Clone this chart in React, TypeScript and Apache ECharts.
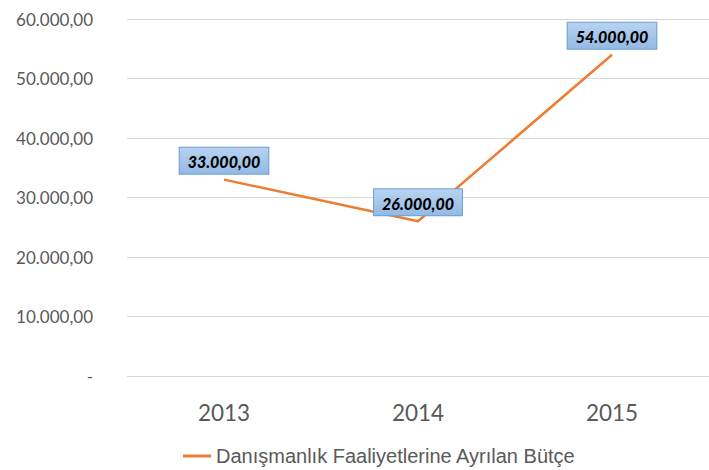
import React, { useEffect, useRef } from "react";
import * as echarts from "echarts";

const categories = ["2013", "2014", "2015"];
const values = [33000, 26000, 54000];
const seriesName = "Danışmanlık Faaliyetlerine Ayrılan Bütçe";
const yTicks = [0, 10000, 20000, 30000, 40000, 50000, 60000];

function fmt(v: number): string {
  if (v === 0) return "-";
  const s = Math.round(v).toString().replace(/\B(?=(\d{3})+(?!\d))/g, ".");
  return s + ",00";
}

export default function App() {
  const ref = useRef<HTMLDivElement>(null);
  useEffect(() => {
    if (!ref.current) return;
    const chart = echarts.init(ref.current, null, { renderer: "svg" });
    chart.setOption({
      animation: false,
      backgroundColor: "#ffffff",
      textStyle: { fontFamily: "Lato" },
      legend: {
        left: 178,
        top: 441,
        itemWidth: 28,
        itemHeight: 3,
        itemGap: 10,
        icon: "rect",
        textStyle: { fontFamily: "Liberation Sans", fontSize: 20, color: "#595959" },
        data: [{ name: seriesName, itemStyle: { color: "#ED7D31" } }],
      },
      grid: { left: 127, top: 19, width: 586, height: 357, containLabel: false },
      xAxis: {
        type: "category",
        data: categories,
        boundaryGap: true,
        axisLine: { show: false },
        axisTick: { show: false },
        axisLabel: { color: "#595959", fontSize: 22.5, margin: 25, fontFamily: "Lato" },
      },
      yAxis: {
        type: "value",
        min: 0,
        max: 60000,
        interval: 10000,
        axisLine: { show: false },
        axisTick: { show: false },
        splitLine: { lineStyle: { color: "#d9d9d9", width: 1 } },
        axisLabel: {
          color: "#595959",
          fontSize: 17,
          margin: 34,
          fontFamily: "Lato",
          formatter: (v: number) => fmt(v),
        },
      },
      series: [
        {
          name: seriesName,
          type: "line",
          data: values,
          showSymbol: true,
          symbol: "circle",
          symbolSize: 0,
          itemStyle: { color: "#ED7D31" },
          lineStyle: { color: "#ED7D31", width: 2.5 },
          label: {
            show: true,
            position: "top",
            distance: 6,
            formatter: (p: any) => fmt(p.value),
            fontFamily: "Lato",
            fontWeight: 900,
            fontStyle: "italic",
            fontSize: 16,
            color: "#000000",
            backgroundColor: new echarts.graphic.LinearGradient(0, 0, 0, 1, [
              { offset: 0, color: "#B8D3F0" },
              { offset: 1, color: "#93B9E4" },
            ]),
            borderColor: "#6A9FD8",
            borderWidth: 1,
            padding: [6, 8, 4, 8],
          },
        },
      ],
    });
    return () => chart.dispose();
  }, []);
  return (
    <div
      ref={ref}
      style={{ position: "fixed", left: 0, top: 0, width: 709, height: 470 }}
    />
  );
}
